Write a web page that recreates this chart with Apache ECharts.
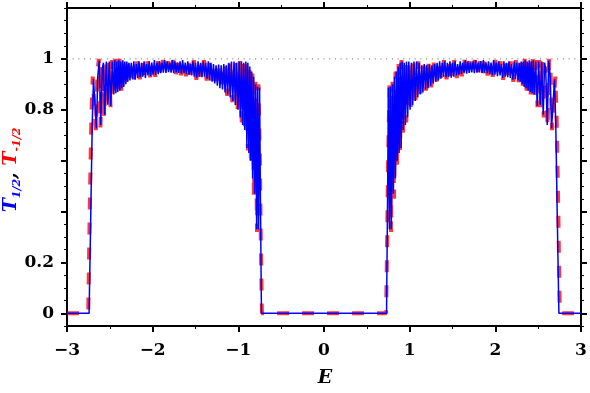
<!DOCTYPE html>
<html><head><meta charset="utf-8">
<script src="https://cdn.jsdelivr.net/npm/echarts@6/dist/echarts.min.js"></script>
<style>html,body{margin:0;padding:0;background:#fff}#c{width:590px;height:393px}</style>
</head><body><div id="c"></div>
<script>
// ---- data ----
const xTickLabels = [-3, -2, -1, 0, 1, 2, 3];
const yMajorTicks = [0, 0.2, 0.4, 0.6, 0.8, 1];
const yLabelValues = [0, 0.2, 0.8, 1];
const unitLine = [[-3, 1], [3, 1]];

// T_{1/2} (blue), left band
const blueLeft = [
 [-3.0,0],[-2.742,0],[-2.722,0.40],[-2.705,0.75],[-2.691,0.92],[-2.670,0.80],[-2.656,0.727],[-2.641,0.93],[-2.623,0.993],[-2.606,0.74],[-2.588,0.96],[-2.575,0.985],[-2.559,0.78],[-2.541,0.99],[-2.524,0.82],[-2.506,0.99],[-2.489,0.815],[-2.471,0.99],[-2.454,0.86],
 [-2.442,0.995],[-2.430,0.865],[-2.418,0.99],[-2.407,0.87],[-2.395,0.995],[-2.383,0.875],[-2.372,0.99],[-2.360,0.885],[-2.348,0.995],[-2.337,0.89],[-2.325,0.99],[-2.313,0.90],[-2.302,0.99],[-2.290,0.91],[-2.278,0.985],
 [-2.265,0.915],[-2.250,0.985],[-2.235,0.92],[-2.220,0.99],[-2.205,0.918],[-2.190,0.98],[-2.175,0.925],[-2.160,0.99],[-2.145,0.928],[-2.130,0.985],[-2.115,0.93],[-2.100,0.99],[-2.085,0.925],[-2.070,0.98],[-2.055,0.935],[-2.040,0.99],[-2.025,0.932],[-2.010,0.985],[-1.995,0.938],[-1.980,0.995],[-1.965,0.936],[-1.950,0.985],[-1.935,0.94],[-1.920,0.99],[-1.905,0.944],[-1.890,0.985],[-1.875,0.946],[-1.860,0.995],[-1.845,0.945],[-1.830,0.99],[-1.815,0.948],[-1.800,0.985],[-1.785,0.946],[-1.770,0.995],[-1.755,0.944],[-1.740,0.99],[-1.725,0.947],[-1.710,0.985],[-1.695,0.945],[-1.680,0.99],[-1.665,0.942],[-1.650,0.995],[-1.635,0.944],[-1.620,0.985],[-1.605,0.94],[-1.590,0.99],[-1.575,0.938],[-1.560,0.98],[-1.545,0.935],[-1.530,0.99],[-1.515,0.93],[-1.500,0.985],[-1.485,0.926],[-1.470,0.99],[-1.455,0.93],[-1.440,0.985],
 [-1.425,0.928],[-1.410,0.99],[-1.395,0.93],[-1.380,0.985],[-1.365,0.922],[-1.350,0.99],[-1.335,0.915],[-1.320,0.985],[-1.305,0.91],[-1.290,0.98],[-1.275,0.903],[-1.260,0.975],[-1.245,0.895],[-1.230,0.978],[-1.215,0.885],[-1.200,0.975],[-1.185,0.88],[-1.170,0.98],[-1.155,0.868],[-1.140,0.975],[-1.125,0.86],[-1.110,0.985],[-1.095,0.848],[-1.080,0.99],[-1.065,0.835],[-1.050,0.99],[-1.035,0.818],[-1.020,0.985],[-1.005,0.80],[-0.990,0.99],[-0.977,0.77],[-0.963,0.99],[-0.950,0.74],[-0.937,0.985],[-0.925,0.72],
 [-0.912,0.99],[-0.900,0.65],[-0.889,0.985],[-0.877,0.63],[-0.866,0.97],[-0.855,0.60],[-0.844,0.95],[-0.833,0.53],[-0.821,0.93],[-0.810,0.47],[-0.798,0.90],[-0.786,0.33],[-0.775,0.89],[-0.764,0.33],[-0.752,0.887],[-0.742,0.45],[-0.730,0]
];
// T_{1/2} (blue), right band
const blueRight = [
 [0.730,0],[0.742,0.45],[0.752,0.887],[0.764,0.33],[0.775,0.89],[0.786,0.33],[0.798,0.90],[0.810,0.47],[0.821,0.93],[0.833,0.53],[0.844,0.95],[0.855,0.60],[0.866,0.97],[0.877,0.63],[0.889,0.985],[0.900,0.65],[0.912,0.99],
 [0.925,0.72],[0.937,0.985],[0.950,0.74],[0.963,0.99],[0.977,0.77],[0.990,0.99],[1.005,0.80],[1.020,0.985],[1.035,0.818],[1.050,0.99],[1.065,0.835],[1.080,0.99],[1.095,0.848],[1.110,0.985],[1.125,0.86],[1.140,0.975],[1.155,0.868],[1.170,0.98],[1.185,0.88],[1.200,0.975],[1.215,0.885],[1.230,0.978],[1.245,0.895],[1.260,0.975],[1.275,0.903],[1.290,0.98],[1.305,0.91],[1.320,0.985],[1.335,0.915],[1.350,0.99],[1.365,0.922],[1.380,0.985],[1.395,0.93],[1.410,0.99],[1.425,0.928],
 [1.440,0.985],[1.455,0.93],[1.470,0.99],[1.485,0.926],[1.500,0.985],[1.515,0.93],[1.530,0.99],[1.545,0.935],[1.560,0.98],[1.575,0.938],[1.590,0.99],[1.605,0.94],[1.620,0.985],[1.635,0.944],[1.650,0.995],[1.665,0.942],[1.680,0.99],[1.695,0.945],[1.710,0.985],[1.725,0.947],[1.740,0.99],[1.755,0.944],[1.770,0.995],[1.785,0.946],[1.800,0.985],[1.815,0.948],[1.830,0.99],[1.845,0.945],[1.860,0.995],[1.875,0.946],[1.890,0.985],[1.905,0.944],[1.920,0.99],[1.935,0.94],[1.950,0.985],[1.965,0.936],[1.980,0.995],[1.995,0.938],[2.010,0.985],[2.025,0.932],[2.040,0.99],[2.055,0.935],[2.070,0.98],[2.085,0.925],[2.100,0.99],[2.115,0.93],[2.130,0.985],[2.145,0.928],[2.160,0.99],[2.175,0.925],[2.190,0.98],[2.205,0.918],[2.220,0.99],[2.235,0.92],[2.250,0.985],[2.265,0.915],
 [2.278,0.985],[2.290,0.91],[2.302,0.99],[2.313,0.90],[2.325,0.99],[2.337,0.89],[2.348,0.995],[2.360,0.885],[2.372,0.99],[2.383,0.875],[2.395,0.995],[2.407,0.87],[2.418,0.99],[2.430,0.865],[2.442,0.995],
 [2.454,0.86],[2.471,0.99],[2.489,0.815],[2.506,0.99],[2.524,0.82],[2.541,0.99],[2.559,0.78],[2.575,0.985],[2.588,0.96],[2.606,0.74],[2.623,0.993],[2.641,0.93],[2.656,0.727],[2.670,0.80],[2.691,0.92],[2.705,0.75],[2.722,0.40],[2.742,0],[3.0,0]
];
// T_{-1/2} (red dashed), left band
const redLeft = [
 [-3.0,0],[-2.752,0],[-2.735,0.40],[-2.715,0.78],[-2.700,0.93],[-2.680,0.80],[-2.662,0.72],[-2.645,0.95],[-2.628,1.0],[-2.610,0.73],[-2.590,0.97],[-2.565,0.77],[-2.545,0.995],[-2.528,0.81],[-2.510,0.995],[-2.492,0.81],[-2.474,0.995],[-2.456,0.855],
 [-2.436,1.0],[-2.412,0.86],[-2.388,1.0],[-2.365,0.875],[-2.342,1.0],[-2.318,0.89],[-2.295,0.995],[-2.270,0.905],
 [-2.240,0.995],[-2.210,0.91],[-2.180,0.99],[-2.150,0.92],[-2.120,0.995],[-2.090,0.918],[-2.060,0.99],[-2.030,0.928],[-2.000,0.995],[-1.970,0.93],[-1.940,0.99],[-1.910,0.935],[-1.880,0.995],[-1.850,0.94],[-1.820,0.99],[-1.790,0.94],[-1.760,0.995],[-1.730,0.938],[-1.700,0.99],[-1.670,0.936],[-1.640,0.995],[-1.610,0.932],[-1.580,0.99],[-1.550,0.925],[-1.520,0.995],[-1.490,0.918],[-1.460,0.99],[-1.430,0.92],
 [-1.400,0.995],[-1.370,0.915],[-1.340,0.99],[-1.310,0.90],[-1.280,0.985],[-1.250,0.888],[-1.220,0.98],[-1.190,0.875],[-1.160,0.985],[-1.130,0.855],[-1.100,0.99],[-1.070,0.83],[-1.040,0.995],[-1.010,0.795],[-0.985,0.995],[-0.960,0.75],[-0.940,0.99],[-0.922,0.71],
 [-0.905,0.995],[-0.888,0.64],[-0.870,0.98],[-0.852,0.58],[-0.835,0.95],[-0.818,0.45],[-0.800,0.91],[-0.782,0.32],[-0.765,0.90],[-0.748,0.60],[-0.738,0.30],[-0.725,0]
];
// T_{-1/2} (red dashed), right band
const redRight = [
 [0.725,0],[0.738,0.30],[0.748,0.60],[0.765,0.90],[0.782,0.32],[0.800,0.91],[0.818,0.45],[0.835,0.95],[0.852,0.58],[0.870,0.98],[0.888,0.64],[0.905,0.995],
 [0.922,0.71],[0.940,0.99],[0.960,0.75],[0.985,0.995],[1.010,0.795],[1.040,0.995],[1.070,0.83],[1.100,0.99],[1.130,0.855],[1.160,0.985],[1.190,0.875],[1.220,0.98],[1.250,0.888],[1.280,0.985],[1.310,0.90],[1.340,0.99],[1.370,0.915],[1.400,0.995],
 [1.430,0.92],[1.460,0.99],[1.490,0.918],[1.520,0.995],[1.550,0.925],[1.580,0.99],[1.610,0.932],[1.640,0.995],[1.670,0.936],[1.700,0.99],[1.730,0.938],[1.760,0.995],[1.790,0.94],[1.820,0.99],[1.850,0.94],[1.880,0.995],[1.910,0.935],[1.940,0.99],[1.970,0.93],[2.000,0.995],[2.030,0.928],[2.060,0.99],[2.090,0.918],[2.120,0.995],[2.150,0.92],[2.180,0.99],[2.210,0.91],[2.240,0.995],
 [2.270,0.905],[2.295,0.995],[2.318,0.89],[2.342,1.0],[2.365,0.875],[2.388,1.0],[2.412,0.86],[2.436,1.0],
 [2.456,0.855],[2.474,0.995],[2.492,0.81],[2.510,0.995],[2.528,0.81],[2.545,0.995],[2.565,0.77],[2.590,0.97],[2.610,0.73],[2.628,1.0],[2.645,0.95],[2.662,0.72],[2.680,0.80],[2.700,0.93],[2.715,0.78],[2.735,0.40],[2.752,0],[3.0,0]
];

// ---- chart ----
const FONT = 'DejaVu Serif';
const chart = echarts.init(document.getElementById('c'), null, {renderer: 'canvas'});
const fmtX = v => (v < 0 ? '\u2212' + (-v) : '' + v);
const axLine = {show: true, onZero: false, lineStyle: {color: '#000', width: 2}};
const noLine = {show: false, onZero: false};
const majorTick = {show: true, length: 6, lineStyle: {color: '#000', width: 2}};
const minorTickStyle = {show: true, splitNumber: 2, length: 3, lineStyle: {color: '#000', width: 1}};
const labelStyle = {color: '#000', fontFamily: FONT, fontWeight: 'bold', fontSize: 17};

const xBase = {type: 'value', min: xTickLabels[0], max: xTickLabels[xTickLabels.length - 1], interval: 1,
  axisLine: axLine, axisTick: majorTick, minorTick: minorTickStyle,
  splitLine: {show: false}, minorSplitLine: {show: false}};
const yRange = {type: 'value', min: -0.05, max: 1.2, splitLine: {show: false}, minorSplitLine: {show: false}};

chart.setOption({
  animation: false,
  backgroundColor: '#fff',
  grid: {left: 67, right: 9, top: 8, bottom: 67, containLabel: false, outerBoundsMode: 'none'},
  xAxis: [
    Object.assign({}, xBase, {position: 'bottom', axisLabel: Object.assign({margin: 16, formatter: fmtX}, labelStyle)}),
    Object.assign({}, xBase, {position: 'top', axisLabel: {show: false}})
  ],
  yAxis: [
    Object.assign({}, yRange, {position: 'left', axisLine: axLine,
      axisTick: Object.assign({customValues: yMajorTicks}, majorTick),
      axisLabel: Object.assign({customValues: yLabelValues, margin: 13}, labelStyle)}),
    Object.assign({}, yRange, {position: 'left', interval: 0.05, axisLine: noLine,
      axisTick: {show: true, length: 3, lineStyle: {color: '#000', width: 1}}, axisLabel: {show: false}}),
    Object.assign({}, yRange, {position: 'right', axisLine: axLine,
      axisTick: Object.assign({customValues: yMajorTicks}, majorTick), axisLabel: {show: false}}),
    Object.assign({}, yRange, {position: 'right', interval: 0.05, axisLine: noLine,
      axisTick: {show: true, length: 3, lineStyle: {color: '#000', width: 1}}, axisLabel: {show: false}})
  ],
  series: [
    {type: 'line', data: unitLine, symbol: 'none', silent: true,
      lineStyle: {color: '#666', width: 1, type: [1, 4.7], dashOffset: 0}},
    {type: 'line', name: 'T-1/2', data: redLeft.concat(redRight), symbol: 'none',
      lineStyle: {color: '#f00', width: 4, opacity: 0.78, type: [12, 13]}},
    {type: 'line', name: 'T1/2', data: blueLeft.concat(blueRight), symbol: 'none',
      lineStyle: {color: '#00f', width: 1.5}}
  ],
  graphic: [
    {type: 'text', x: 11, y: 170, rotation: Math.PI / 2,
      style: {text: '{b|T}{bs|1/2}{k|, }{r|T}{rs|-1/2}', align: 'center', verticalAlign: 'middle',
        rich: {
          b: {fill: '#00f', fontFamily: FONT, fontWeight: 'bold', fontStyle: 'italic', fontSize: 19, lineHeight: 24},
          bs: {fill: '#00f', fontFamily: FONT, fontWeight: 'bold', fontStyle: 'italic', fontSize: 11, lineHeight: 12, verticalAlign: 'bottom'},
          k: {fill: '#000', fontFamily: FONT, fontWeight: 'bold', fontStyle: 'italic', fontSize: 19, lineHeight: 24},
          r: {fill: '#f00', fontFamily: FONT, fontWeight: 'bold', fontStyle: 'italic', fontSize: 19, lineHeight: 24},
          rs: {fill: '#f00', fontFamily: FONT, fontWeight: 'bold', fontStyle: 'italic', fontSize: 11, lineHeight: 12, verticalAlign: 'bottom'}
        }}},
    {type: 'text', x: 325, y: 378,
      style: {text: 'E', align: 'center', verticalAlign: 'middle', fill: '#000',
        fontFamily: FONT, fontWeight: 'bold', fontStyle: 'italic', fontSize: 19}}
  ]
});
</script></body></html>
